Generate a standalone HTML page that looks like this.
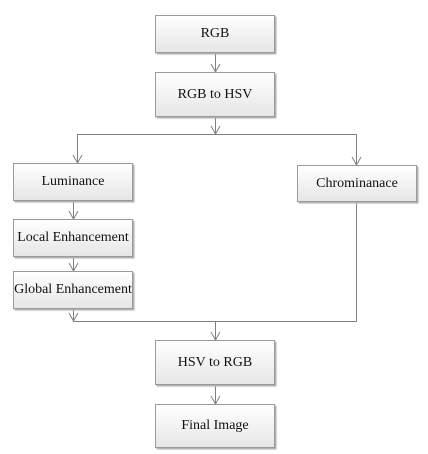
<!DOCTYPE html>
<html><head><style>
body{margin:0;width:428px;height:454px;background:#fff;position:relative;overflow:hidden;font-family:"Liberation Serif",serif;}
.b{position:absolute;box-sizing:border-box;border:1px solid #9a9a9a;background:linear-gradient(#fff,#e6e6e6);box-shadow:1.5px 1.5px 1px #b0b0b0;display:flex;align-items:center;justify-content:center;font-size:14px;color:#111;}
svg{position:absolute;left:0;top:0}
</style></head><body>
<svg width="428" height="454" fill="none" stroke="#808080" stroke-width="1">
<path d="M215.5 52 V72"/><path d="M211 64 L215.5 72 L220 64"/>
<path d="M215.5 116 V134"/><path d="M211 126 L215.5 134 L220 126"/>
<path d="M77.5 163 V134.5 H356.5 V165"/>
<path d="M73 155 L77.5 163 L82 155"/>
<path d="M352 157 L356.5 165 L361 157"/>
<path d="M73.5 200 V219"/><path d="M69 211 L73.5 219 L78 211"/>
<path d="M73.5 256 V271"/><path d="M69 263 L73.5 271 L78 263"/>
<path d="M73.5 308 V321"/><path d="M69 313 L73.5 321 L78 313"/>
<path d="M356.5 201 V321.5 H73"/>
<path d="M215.5 321 V340"/><path d="M211 332 L215.5 340 L220 332"/>
<path d="M215.5 384 V404"/><path d="M211 396 L215.5 404 L220 396"/>
</svg>
<div class="b" style="left:155px;top:15px;width:120px;height:38px">RGB</div>
<div class="b" style="left:155px;top:72px;width:120px;height:45px">RGB to HSV</div>
<div class="b" style="left:13px;top:163px;width:120px;height:38px">Luminance</div>
<div class="b" style="left:297px;top:165px;width:120px;height:37px">Chrominanace</div>
<div class="b" style="left:13px;top:219px;width:120px;height:38px">Local Enhancement</div>
<div class="b" style="left:13px;top:271px;width:120px;height:38px">Global Enhancement</div>
<div class="b" style="left:155px;top:340px;width:120px;height:45px">HSV to RGB</div>
<div class="b" style="left:155px;top:404px;width:120px;height:44px">Final Image</div>
</body></html>
